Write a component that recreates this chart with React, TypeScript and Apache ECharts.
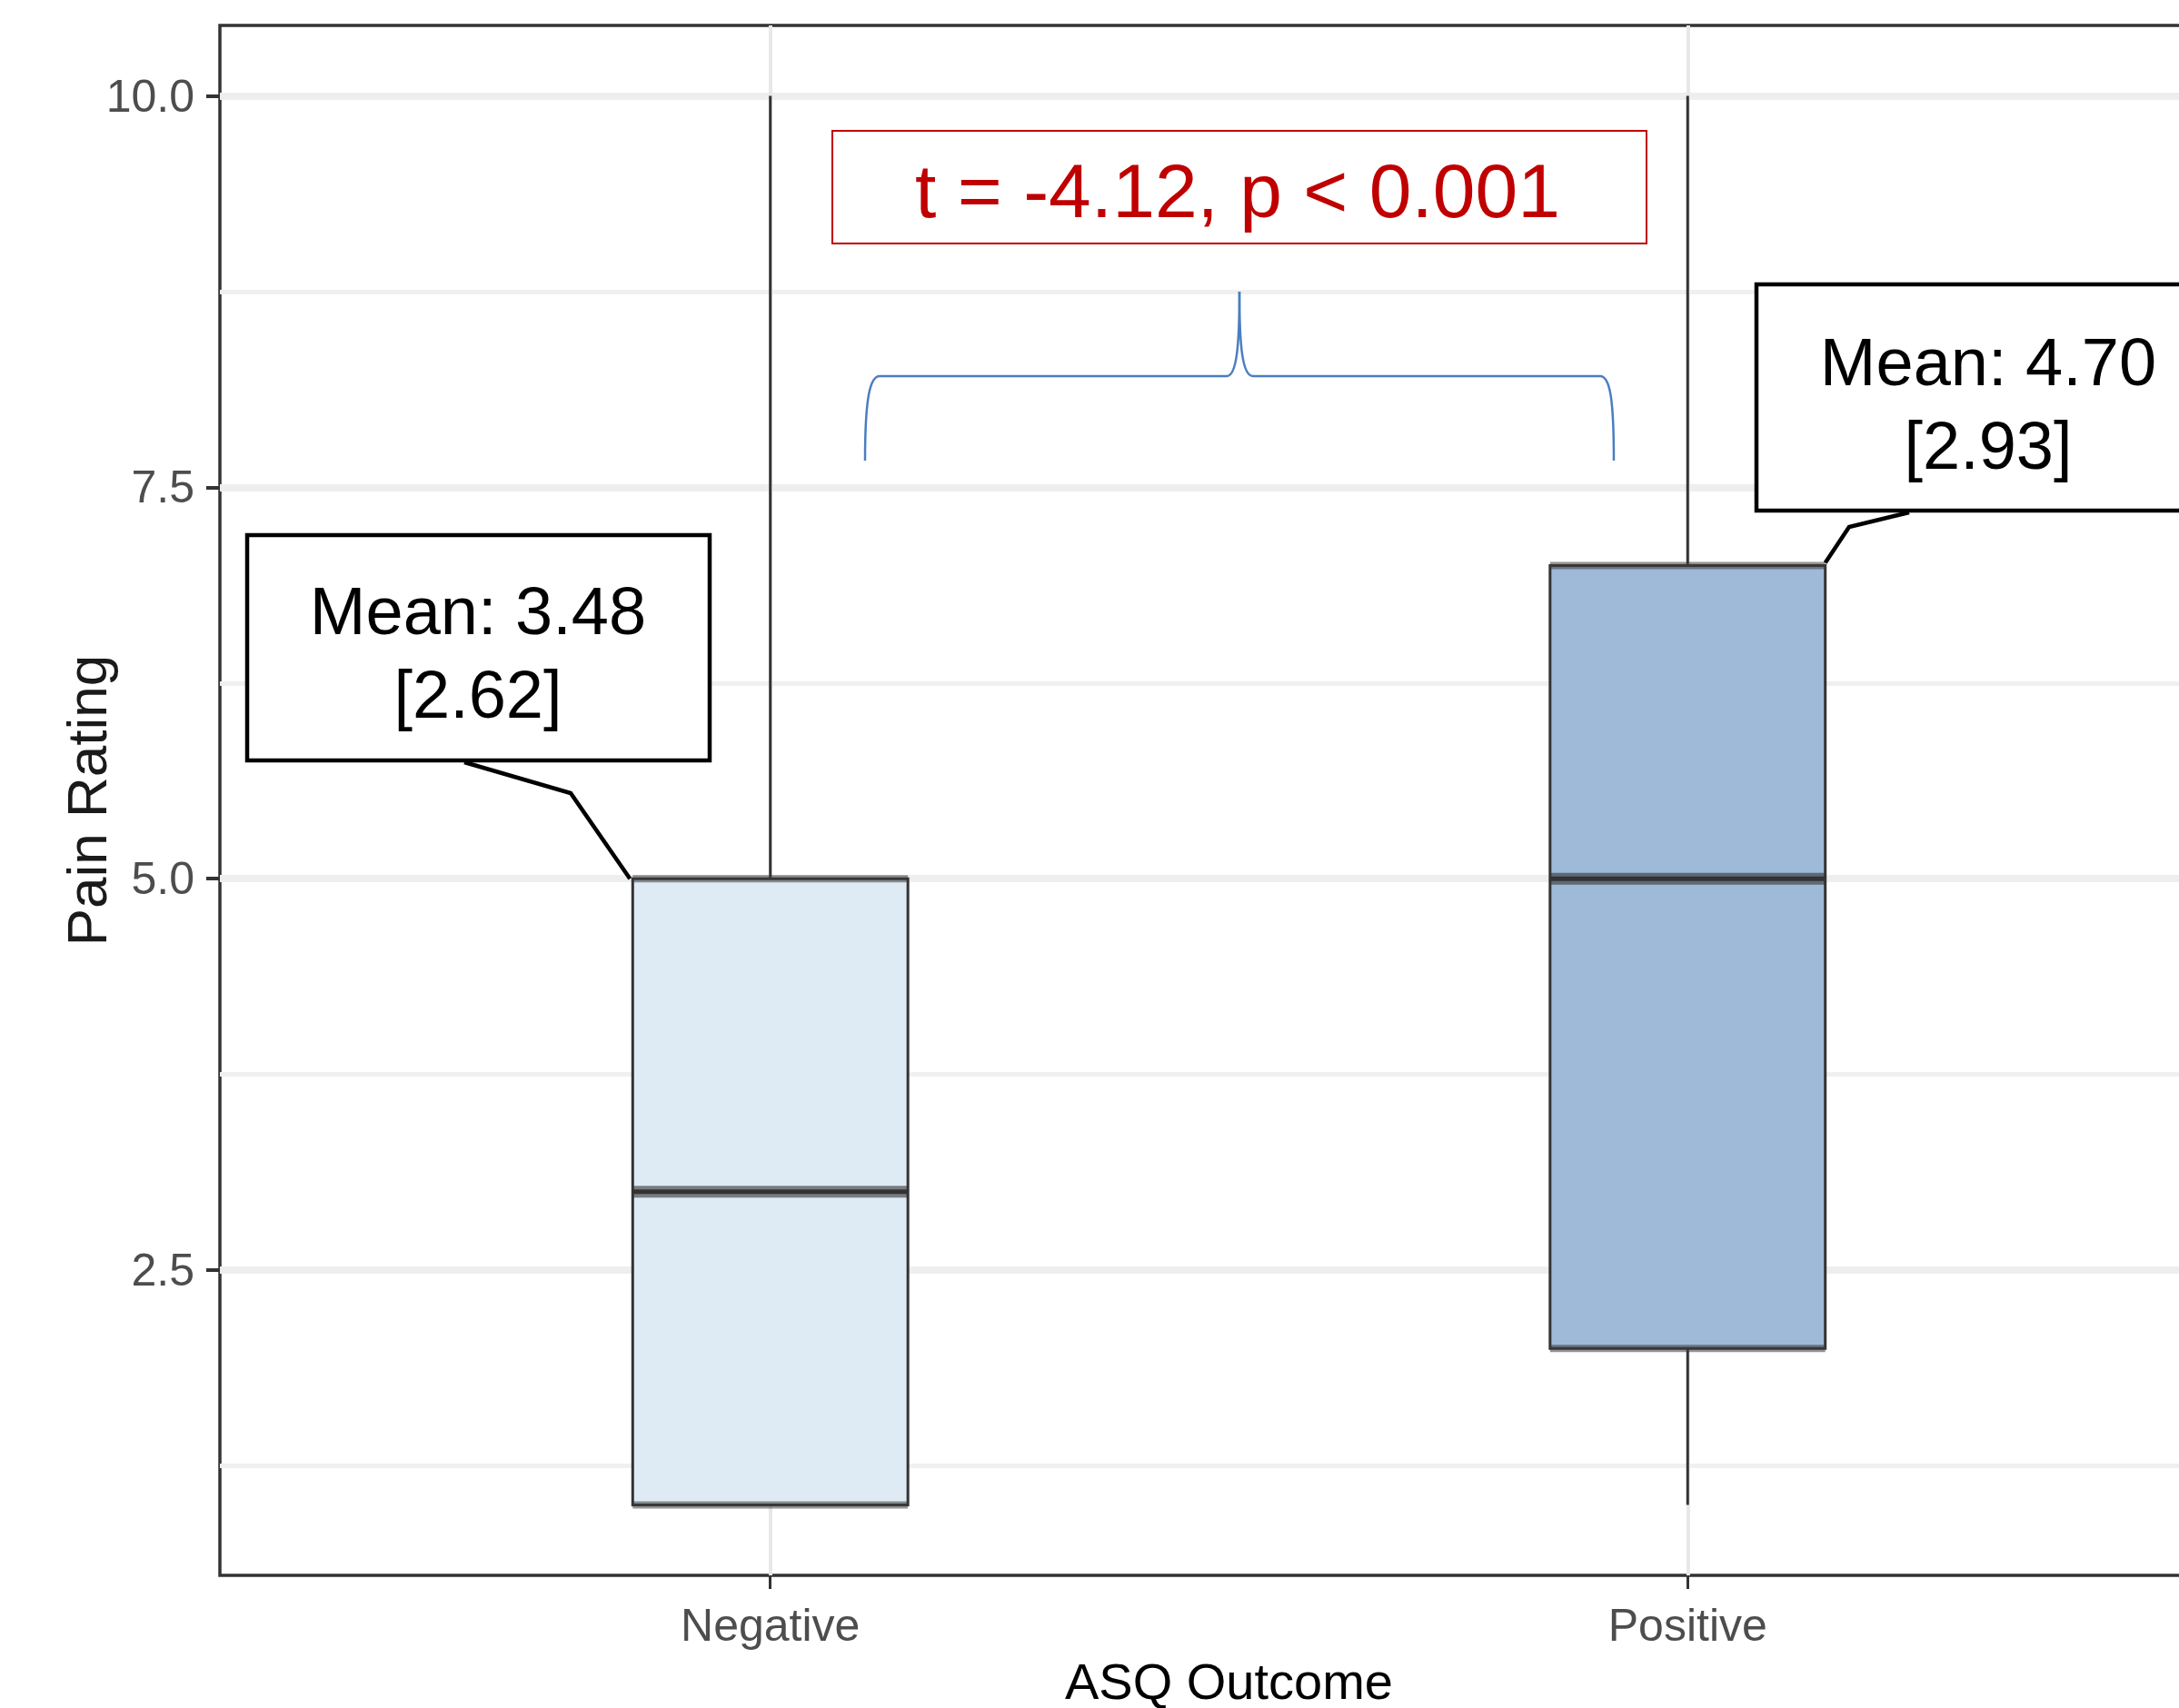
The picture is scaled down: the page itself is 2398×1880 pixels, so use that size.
import React, { useEffect, useRef } from 'react';
import * as echarts from 'echarts';

// ---- data ----
const categories = ['Negative', 'Positive'];
const whiskerLow = [1, 1];
const quartile1 = [1, 2];
const medians = [3, 5];
const quartile3 = [5, 7];
const whiskerHigh = [10, 10];
const boxFills = ['#DFEBF4', '#9EBAD8'];
const means = [3.48, 4.7];
const sds = [2.62, 2.93];
const yTickValues = [2.5, 5, 7.5, 10];
const yMinorGrid = [1.25, 3.75, 6.25, 8.75];
const xTickValues = [1, 2];
const tStatistic = -4.12;
const pText = '< 0.001';
const yTitle = 'Pain Rating';
const xTitle = 'ASQ Outcome';

const BOX_WIDTH = 0.3;
const SANS = "'Liberation Sans', Arial, sans-serif";

function renderBox(params: any, api: any) {
  const x = api.value(0);
  const lo = api.value(1);
  const q1 = api.value(2);
  const med = api.value(3);
  const q3 = api.value(4);
  const hi = api.value(5);
  const idx = params.dataIndex;
  const half = (api.size([1, 0])[0] * BOX_WIDTH) / 2;
  const [cx, yHi] = api.coord([x, hi]);
  const yLo = api.coord([x, lo])[1];
  const yQ1 = api.coord([x, q1])[1];
  const yQ3 = api.coord([x, q3])[1];
  const yMed = api.coord([x, med])[1];
  const children: any[] = [];
  if (hi > q3) {
    children.push({ type: 'line', shape: { x1: cx, y1: yHi, x2: cx, y2: yQ3 }, style: { stroke: '#333333', lineWidth: 3 } });
  }
  if (lo < q1) {
    children.push({ type: 'line', shape: { x1: cx, y1: yQ1, x2: cx, y2: yLo }, style: { stroke: '#333333', lineWidth: 3 } });
  }
  children.push({
    type: 'rect',
    shape: { x: cx - half, y: yQ3, width: half * 2, height: yQ1 - yQ3 },
    style: { fill: boxFills[idx], stroke: '#333333', lineWidth: 3 },
  });
  [yQ3, yQ1].forEach((yy) => {
    children.push({ type: 'line', shape: { x1: cx - half, y1: yy, x2: cx + half, y2: yy }, style: { stroke: 'rgba(60,60,60,0.55)', lineWidth: 8 } });
  });
  children.push({ type: 'line', shape: { x1: cx - half, y1: yMed, x2: cx + half, y2: yMed }, style: { stroke: 'rgba(51,51,51,0.6)', lineWidth: 13 } });
  children.push({ type: 'line', shape: { x1: cx - half, y1: yMed, x2: cx + half, y2: yMed }, style: { stroke: '#333333', lineWidth: 5 } });
  return { type: 'group', children };
}

export default function App() {
  const ref = useRef<HTMLDivElement>(null);
  useEffect(() => {
    if (!ref.current) return;
    const chart = echarts.init(ref.current, null, { renderer: 'svg' });
    const option: any = {
      animation: false,
      backgroundColor: '#ffffff',
      grid: {
        left: 242,
        right: -65,
        top: 28,
        bottom: 146,
        show: true,
        borderColor: '#333333',
        borderWidth: 3.5,
        backgroundColor: 'transparent',
        outerBoundsMode: 'none',
        containLabel: false,
      },
      xAxis: {
        type: 'value',
        min: 0.4,
        max: 2.6,
        axisLine: { show: false },
        splitLine: { show: false },
        axisTick: { show: true, customValues: xTickValues, length: 15, lineStyle: { color: '#333333', width: 3 } },
        axisLabel: {
          customValues: xTickValues,
          formatter: (v: number) => categories[Math.round(v) - 1] ?? '',
          fontSize: 50,
          color: '#4D4D4D',
          fontFamily: SANS,
          margin: 30,
        },
        name: xTitle,
        nameLocation: 'middle',
        nameGap: 88,
        nameMoveOverlap: false,
        nameTextStyle: { fontSize: 56, color: '#000000', fontFamily: SANS },
      },
      yAxis: {
        type: 'value',
        min: 0.55,
        max: 10.45,
        axisLine: { show: false },
        splitLine: { show: false },
        axisTick: { show: true, customValues: yTickValues, length: 15, lineStyle: { color: '#333333', width: 4 } },
        axisLabel: {
          customValues: yTickValues,
          formatter: (v: number) => v.toFixed(1),
          fontSize: 50,
          color: '#4D4D4D',
          fontFamily: SANS,
          margin: 28,
        },
        name: yTitle,
        nameLocation: 'middle',
        nameRotate: 90,
        nameGap: 116,
        nameMoveOverlap: false,
        nameTextStyle: { fontSize: 62, color: '#1A1A1A', fontFamily: SANS },
      },
      series: [
        {
          type: 'line',
          data: [],
          z: 1,
          silent: true,
          markLine: {
            silent: true,
            z: 1,
            symbol: ['none', 'none'],
            label: { show: false },
            data: [
              ...yMinorGrid.map((v) => ({ yAxis: v, lineStyle: { color: '#F0F0F0', width: 5, type: 'solid' } })),
              ...yTickValues.map((v) => ({ yAxis: v, lineStyle: { color: '#EEEEEE', width: 8, type: 'solid' } })),
              ...xTickValues.map((v) => ({ xAxis: v, lineStyle: { color: '#E8E8E8', width: 4, type: 'solid' } })),
            ],
          },
        },
        {
          type: 'custom',
          z: 6,
          renderItem: renderBox,
          data: categories.map((_, i) => [i + 1, whiskerLow[i], quartile1[i], medians[i], quartile3[i], whiskerHigh[i]]),
        },
      ],
    };
    chart.setOption(option);

    const negCorner = chart.convertToPixel({ gridIndex: 0 }, [1 - BOX_WIDTH / 2, quartile3[0]]) as number[];
    const posCorner = chart.convertToPixel({ gridIndex: 0 }, [2 + BOX_WIDTH / 2, quartile3[1]]) as number[];

    const textStyle = (text: string, x: number, y: number, size: number, color: string, lh?: number) => ({
      text,
      x,
      y,
      fill: color,
      fontSize: size,
      fontFamily: SANS,
      align: 'center',
      verticalAlign: 'middle',
      textAlign: 'center',
      textVerticalAlign: 'middle',
      lineHeight: lh,
    });
    const braceColor = '#4A7EC0';
    const braceStyle = { stroke: braceColor, lineWidth: 2.5, fill: 'none' };

    const calloutText = (i: number) => `Mean: ${means[i].toFixed(2)}\n[${sds[i].toFixed(2)}]`;

    chart.setOption({
      graphic: [
        // t-test label box
        { type: 'rect', z: 10, shape: { x: 916, y: 144, width: 896, height: 124 }, style: { fill: '#ffffff', stroke: '#C00000', lineWidth: 2 } },
        { type: 'text', z: 11, style: textStyle(`t = ${tStatistic.toFixed(2)}, p ${pText}`, 1362, 210, 84, '#C00000') },
        // brace
        { type: 'bezierCurve', z: 10, shape: { x1: 952, y1: 507, cpx1: 952, cpy1: 440, cpx2: 957, cpy2: 414, x2: 968, y2: 414 }, style: braceStyle },
        { type: 'line', z: 10, shape: { x1: 968, y1: 414, x2: 1350, y2: 414 }, style: braceStyle },
        { type: 'bezierCurve', z: 10, shape: { x1: 1350, y1: 414, cpx1: 1361, cpy1: 414, cpx2: 1364, cpy2: 380, x2: 1364, y2: 321 }, style: braceStyle },
        { type: 'bezierCurve', z: 10, shape: { x1: 1364, y1: 321, cpx1: 1364, cpy1: 380, cpx2: 1367, cpy2: 414, x2: 1379, y2: 414 }, style: braceStyle },
        { type: 'line', z: 10, shape: { x1: 1379, y1: 414, x2: 1761, y2: 414 }, style: braceStyle },
        { type: 'bezierCurve', z: 10, shape: { x1: 1761, y1: 414, cpx1: 1772, cpy1: 414, cpx2: 1776, cpy2: 440, x2: 1776, y2: 507 }, style: braceStyle },
        // left callout
        { type: 'rect', z: 10, shape: { x: 272, y: 589, width: 509, height: 248 }, style: { fill: '#ffffff', stroke: '#000000', lineWidth: 4.5 } },
        { type: 'text', z: 11, style: textStyle(calloutText(0), 526, 718, 74, '#000000', 92) },
        { type: 'polyline', z: 10, shape: { points: [[511, 839], [628, 873], [negCorner[0] - 3, negCorner[1]]] }, style: { stroke: '#000000', lineWidth: 4.5, fill: 'none' } },
        // right callout
        { type: 'rect', z: 10, shape: { x: 1933, y: 313, width: 509, height: 249 }, style: { fill: '#ffffff', stroke: '#000000', lineWidth: 4.5 } },
        { type: 'text', z: 11, style: textStyle(calloutText(1), 2188, 444, 74, '#000000', 92) },
        { type: 'polyline', z: 10, shape: { points: [[2101, 564], [2035, 580], [posCorner[0], posCorner[1] - 3]] }, style: { stroke: '#000000', lineWidth: 4.5, fill: 'none' } },
      ],
    });

    return () => chart.dispose();
  }, []);
  return <div ref={ref} style={{ position: 'fixed', left: 0, top: 0, width: 2398, height: 1880, background: '#fff' }} />;
}
